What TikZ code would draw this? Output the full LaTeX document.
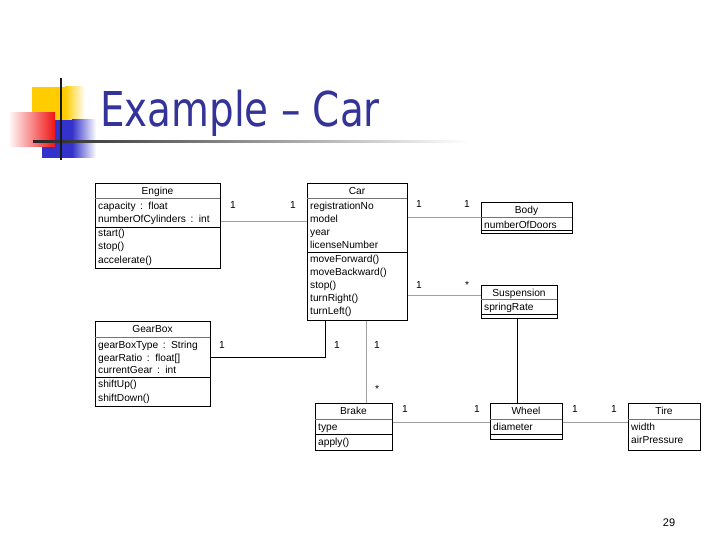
\documentclass[tikz,border=0pt]{standalone}
\usepackage{fontspec}
\setmainfont{Liberation Sans}
\newfontfamily\titlefont{DejaVu Sans}
\usetikzlibrary{calc}
\definecolor{titleblue}{RGB}{51,51,153}
\definecolor{linegray}{RGB}{160,160,160}
\definecolor{logoyellow}{RGB}{255,204,0}
\definecolor{logoblue}{RGB}{51,51,204}
\definecolor{logored}{RGB}{240,20,20}
\begin{document}
\begin{tikzpicture}[x=1pt,y=-1pt,
  cls/.style={draw=black, line width=0.6pt, rectangle, anchor=north west, inner sep=0pt},
  tdiv/.style={draw=black!55, line width=0.5pt},
  mdiv/.style={draw=black, line width=0.6pt},
  txt/.style={font=\fontsize{10.2}{11}\selectfont, anchor=base west, inner sep=0pt, yshift=-3.6pt},
  ttl/.style={font=\fontsize{10.2}{11}\selectfont, anchor=base, inner sep=0pt, yshift=-3.6pt},
  mult/.style={font=\fontsize{10.2}{11}\selectfont, anchor=base, inner sep=0pt, yshift=-3.6pt},
  assoc/.style={draw=linegray, line width=0.8pt},
  assocb/.style={draw=black, line width=0.8pt}]
\useasboundingbox (0,0) rectangle (720,540);
\fill[white] (0,0) rectangle (720,540);

% ---- logo ----
\fill[logoyellow] (32,87) rectangle (65,121);
\shade[left color=logoyellow, right color=white] (65,87) rectangle (85,121);
\fill[logoblue] (42,120) rectangle (72,158);
\shade[left color=logoblue, right color=white] (72,120) rectangle (96,158);
\shade[left color=red!4!white, right color=logored] (10,113) rectangle (55,147);
\shade[left color=black!85, right color=white] (33,140.5) rectangle (470,143);
\fill[black!90] (59.8,78) rectangle (62.4,160);

% ---- title ----
\node[anchor=base west, font=\titlefont\fontsize{48}{48}\selectfont, text=titleblue, xscale=0.81, inner sep=0pt] (title) at (100,127) {Example – Car};

% ---- Engine ----
\node[cls, minimum width=125pt, minimum height=85pt] (engine) at (95,183) {};
\draw[tdiv] (95,198) -- (220,198);
\draw[mdiv] (95,227) -- (220,227);
\node[ttl] (engineT) at (157.5,191) {Engine};
\node[txt] (engineA1) at (98,206) {capacity \,:\, float};
\node[txt] (engineA2) at (98,219) {numberOfCylinders \,:\, int};
\node[txt] (engineM1) at (98,233) {start()};
\node[txt] (engineM2) at (98,246) {stop()};
\node[txt] (engineM3) at (98,259.5) {accelerate()};

% ---- Car ----
\node[cls, minimum width=100pt, minimum height=137pt] (car) at (307,183) {};
\draw[tdiv] (307,198) -- (407,198);
\draw[mdiv] (307,252) -- (407,252);
\node[ttl] (carT) at (357,191) {Car};
\node[txt] (carA1) at (310,206) {registrationNo};
\node[txt] (carA2) at (310,219) {model};
\node[txt] (carA3) at (310,232) {year};
\node[txt] (carA4) at (310,245) {licenseNumber};
\node[txt] (carM1) at (310,259) {moveForward()};
\node[txt] (carM2) at (310,272) {moveBackward()};
\node[txt] (carM3) at (310,285) {stop()};
\node[txt] (carM4) at (310,298) {turnRight()};
\node[txt] (carM5) at (310,311) {turnLeft()};

% ---- Body ----
\node[cls, minimum width=91pt, minimum height=31pt] (body) at (481,202) {};
\draw[tdiv] (481,217) -- (572,217);
\draw[mdiv] (481,230) -- (572,230);
\node[ttl] (bodyT) at (526.5,210) {Body};
\node[txt] (bodyA1) at (484,224.5) {numberOfDoors};

% ---- Suspension ----
\node[cls, minimum width=76pt, minimum height=33pt] (susp) at (481,285) {};
\draw[tdiv] (481,299) -- (557,299);
\draw[mdiv] (481,314) -- (557,314);
\node[ttl] (suspT) at (519,292.5) {Suspension};
\node[txt] (suspA1) at (484,307) {springRate};

% ---- GearBox ----
\node[cls, minimum width=115pt, minimum height=85pt] (gearbox) at (95,321) {};
\draw[tdiv] (95,337) -- (210,337);
\draw[mdiv] (95,377) -- (210,377);
\node[ttl] (gearT) at (152.5,329) {GearBox};
\node[txt] (gearA1) at (98,345) {gearBoxType \,:\, String};
\node[txt] (gearA2) at (98,357.5) {gearRatio \,:\, float[]};
\node[txt] (gearA3) at (98,370) {currentGear \,:\, int};
\node[txt] (gearM1) at (98,384) {shiftUp()};
\node[txt] (gearM2) at (98,398) {shiftDown()};

% ---- Brake ----
\node[cls, minimum width=77pt, minimum height=47pt] (brake) at (315,403) {};
\draw[tdiv] (315,419) -- (392,419);
\draw[mdiv] (315,434) -- (392,434);
\node[ttl] (brakeT) at (353.5,411) {Brake};
\node[txt] (brakeA1) at (318,427) {type};
\node[txt] (brakeM1) at (318,441.5) {apply()};

% ---- Wheel ----
\node[cls, minimum width=72pt, minimum height=36pt] (wheel) at (490,403) {};
\draw[tdiv] (490,419) -- (562,419);
\draw[mdiv] (490,434) -- (562,434);
\node[ttl] (wheelT) at (526,411) {Wheel};
\node[txt] (wheelA1) at (493,427) {diameter};

% ---- Tire ----
\node[cls, minimum width=72pt, minimum height=47pt] (tire) at (628,403) {};
\draw[tdiv] (628,419) -- (700,419);
\node[ttl] (tireT) at (664,411) {Tire};
\node[txt] (tireA1) at (631,427) {width};
\node[txt] (tireA2) at (631,440) {airPressure};

% ---- connectors ----
\draw[assoc] (engine.east |- 0,221) -- (car.west |- 0,221);
\draw[assoc] (car.east |- 0,217) -- (body.west |- 0,217);
\draw[assoc] (car.east |- 0,295) -- (susp.west |- 0,295);
\draw[assocb] (susp.south -| 517,0) -- (wheel.north -| 517,0);
\draw[assocb] (gearbox.east |- 0,357) -| (car.south -| 325,0);
\draw[assoc] (car.south -| 366,0) -- (brake.north -| 366,0);
\draw[assoc] (brake.east |- 0,422) -- (wheel.west |- 0,422);
\draw[assoc] (wheel.east |- 0,422) -- (tire.west |- 0,422);

% ---- multiplicities ----
\node[mult] (m1) at (233,205) {1};
\node[mult] (m2) at (293,205) {1};
\node[mult] (m3) at (419,204) {1};
\node[mult] (m4) at (467,204) {1};
\node[mult] (m5) at (419,285) {1};
\node[mult] (m6) at (467,285) {*};
\node[mult] (m7) at (222,345) {1};
\node[mult] (m8) at (337,345) {1};
\node[mult] (m9) at (377,345) {1};
\node[mult] (m10) at (377,389) {*};
\node[mult] (m11) at (405,409) {1};
\node[mult] (m12) at (477,409) {1};
\node[mult] (m13) at (575,409) {1};
\node[mult] (m14) at (614,409) {1};

% ---- page number ----
\node[font=\fontsize{11}{12}\selectfont, inner sep=0pt] (page) at (669,523) {29};
\end{tikzpicture}
\end{document}
